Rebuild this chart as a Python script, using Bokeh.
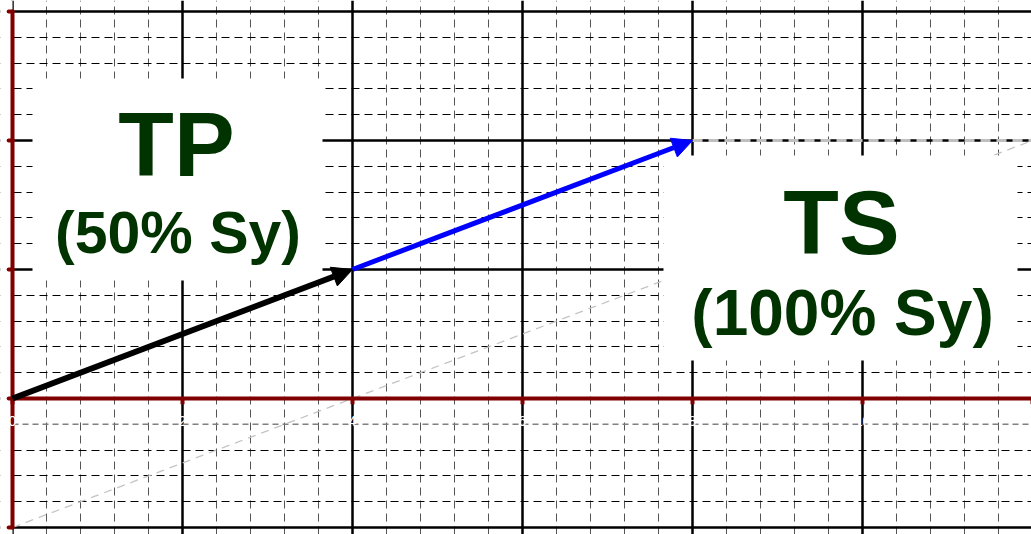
from bokeh.plotting import figure
from bokeh.models import FixedTicker, Arrow, NormalHead
from bokeh.core.properties import value
from bokeh.embed import file_html
from bokeh.resources import INLINE

# ---- data ----
x_major = [0, 2, 4, 6, 8, 10, 12]
y_major = [-1, 0, 1, 2, 3]
x_labels = ["0", "2", "4", "6", "8", "10"]
x_label_pos = [0, 2, 4, 6, 8, 10]

# load path (arrows)
tp_start = (0, 0)
tp_end = (4, 1)
ts_start = (4, 1)
ts_end = (8, 2)

# reference (gray dashed) line
ref_x = [0, 12]
ref_y = [-1, 2]
flat_x = [8, 12]
flat_y = [2, 2]

labels_main = ["TP", "TS"]
labels_sub = ["(50% Sy)", "(100% Sy)"]

# ---- figure ----
W, H = 1031, 534
PX_X = 85.0   # pixels per x unit
PX_Y = 129.0  # pixels per y unit
X0 = 12.0     # pixel of x=0 inside the frame
Y0 = 398.0    # pixel (from top) of y=0 inside the frame

p = figure(width=W, height=H, output_backend="svg", toolbar_location=None,
           x_range=(-X0 / PX_X, (W - X0) / PX_X),
           y_range=(-(H - Y0) / PX_Y, Y0 / PX_Y),
           min_border=0, outline_line_color=None)
p.xaxis.visible = False
p.yaxis.visible = False
p.background_fill_color = "white"

x_minor = [round(i * 0.4, 2) for i in range(0, 31) if round(i * 0.4, 2) not in x_major]
y_minor = [round(-1 + i * 0.2, 2) for i in range(0, 21)]
y_minor = [v for v in y_minor if v not in y_major and v != -0.2]

p.xgrid.ticker = FixedTicker(ticks=x_major, minor_ticks=x_minor)
p.ygrid.ticker = FixedTicker(ticks=y_major, minor_ticks=y_minor)
for g in (p.xgrid, p.ygrid):
    g.grid_line_color = "black"
    g.grid_line_width = 2.5
    g.grid_line_alpha = 1
    g.minor_grid_line_width = 1
    g.minor_grid_line_dash = "8 5"
p.xgrid.minor_grid_line_color = "#555555"
p.ygrid.minor_grid_line_color = "black"

# label row gridline (gray)
p.segment(x0=[0], y0=[-0.2], x1=[p.x_range.end], y1=[-0.2],
          line_color="#808080", line_width=1.5, line_dash="6 4")

# gray dashed reference line
p.line(ref_x, ref_y, line_color="#c4c4c4", line_width=1.3, line_dash="8 6")
p.line(flat_x, flat_y, line_color="#c0c0c0", line_width=3, line_dash="10 6")

# white label boxes
def px2x(px):
    return (px - X0) / PX_X

def px2y(py):
    return (Y0 - py) / PX_Y

p.quad(left=[px2x(32), px2x(663)], right=[px2x(322), px2x(1017)],
       top=[px2y(78), px2y(155)], bottom=[px2y(280), px2y(360)],
       fill_color="white", line_color=None)
# blank strip left of the y axis
p.quad(left=[p.x_range.start], right=[0], top=[p.y_range.end], bottom=[p.y_range.start],
       fill_color="white", line_color=None)

green = "#003300"
font = value("Liberation Sans")
p.text(x=[px2x(176)], y=[px2y(144)], text=[labels_main[0]],
       text_font=font, text_font_style="bold",
       text_font_size="91px", text_color=green,
       text_align="center", text_baseline="alphabetic")
p.text(x=[px2x(841)], y=[px2y(222)], text=[labels_main[1]],
       text_font=font, text_font_style="bold",
       text_font_size="91px", text_color=green,
       text_align="center", text_baseline="alphabetic")
p.text(x=[px2x(177.5)], y=[px2y(232)], text=[labels_sub[0]],
       text_font=font, text_font_style="bold",
       text_font_size="59px", text_color=green,
       text_align="center", text_baseline="alphabetic")
p.text(x=[px2x(842)], y=[px2y(312)], text=[labels_sub[1]],
       text_font=font, text_font_style="bold",
       text_font_size="64px", text_color=green,
       text_align="center", text_baseline="alphabetic")

# axes (dark red)
red = "#800000"
p.segment(x0=[0], y0=[0], x1=[p.x_range.end], y1=[0],
          line_color=red, line_width=4)
p.segment(x0=[0], y0=[-1], x1=[0], y1=[3], line_color=red, line_width=4,
          line_cap="round")
# ticks
p.segment(x0=x_major, y0=[0] * len(x_major), x1=x_major, y1=[-0.045] * len(x_major),
          line_color=red, line_width=4)
p.segment(x0=[-0.045] * len(y_major), y0=y_major, x1=[0] * len(y_major), y1=y_major,
          line_color=red, line_width=4, line_cap="round")

# white tick labels
p.text(x=x_label_pos, y=[-0.178] * len(x_label_pos), text=x_labels,
       text_font=font, text_font_size="14px",
       text_color="white", text_align="center", text_baseline="middle")

# arrows
p.add_layout(Arrow(end=NormalHead(size=20, fill_color="black", line_color="black",
                                  line_width=1),
                   x_start=tp_start[0], y_start=tp_start[1],
                   x_end=tp_end[0], y_end=tp_end[1],
                   line_color="black", line_width=6))
p.add_layout(Arrow(end=NormalHead(size=20, fill_color="blue", line_color="blue",
                                  line_width=1),
                   x_start=ts_start[0], y_start=ts_start[1],
                   x_end=ts_end[0], y_end=ts_end[1],
                   line_color="blue", line_width=5))

open("out.html", "w").write(file_html(p, INLINE))
